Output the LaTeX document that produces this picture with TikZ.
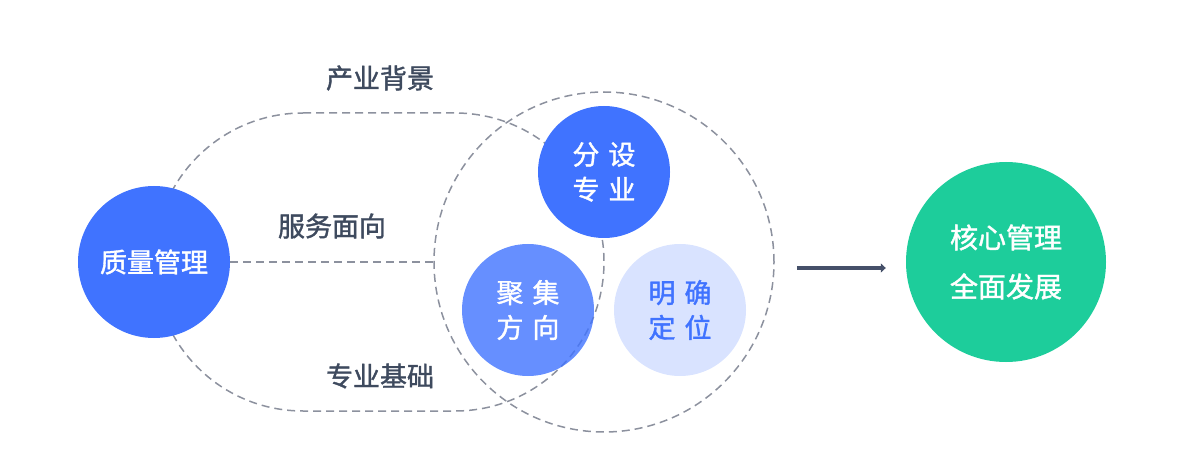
\documentclass[tikz,border=0pt]{standalone}
\usepackage{fontspec}
\setmainfont{Noto Sans CJK SC}[FakeBold=1.4]
\usepackage{tikz}
\usetikzlibrary{arrows.meta,positioning}
\definecolor{qmblue}{HTML}{4073FF}
\definecolor{qmpale}{HTML}{D9E3FF}
\definecolor{qmgreen}{HTML}{1DCD9B}
\definecolor{qmtext}{HTML}{3E4A5E}
\definecolor{qmdash}{HTML}{8C919E}
\definecolor{qmarrow}{HTML}{455069}

\begin{document}
\begin{tikzpicture}[x=1pt,y=1pt,
    dashline/.style={draw=qmdash,line width=1.5pt,dash pattern=on 8pt off 5pt},
    ball/.style={circle,inner sep=0pt,text=white,align=center,font=\fontsize{27}{35}\selectfont},
    label/.style={text=qmtext,font=\fontsize{27}{32}\selectfont}]
      \useasboundingbox (0,0) rectangle (1184,472);
      \draw[dashline] (303,359) -- (455,359) arc[start angle=90,end angle=-90,radius=149]
        -- (303,61) arc[start angle=270,end angle=90,radius=149] -- cycle;
      \node[circle,dashline,minimum size=340pt,inner sep=0pt] (ring) at (604,210) {};
      \node[ball,fill=qmblue,minimum size=152pt] (quality) at (154,210) {质量管理};
      \draw[dashline] (quality.east) -- (ring.west);
      \node[ball,fill=qmblue,minimum size=132pt] (major) at (604,300) {分\hspace{9pt}设\\专\hspace{9pt}业};
      \node[ball,fill=qmblue,fill opacity=0.8,text opacity=1,minimum size=132pt] (focus) at (528,162) {聚\hspace{9pt}集\\方\hspace{9pt}向};
      \node[ball,fill=qmpale,text=qmblue,minimum size=132pt] (locate) at (680,162) {明\hspace{9pt}确\\定\hspace{9pt}位};
      \node[label] (industry) at (380,394) {产业背景};
      \node[label] (service) at (332,246) {服务面向};
      \node[label] (basis) at (380,96) {专业基础};
      \node[ball,fill=qmgreen,minimum size=200pt,font=\fontsize{28}{49}\selectfont] (goal) at (1006,210) {核心管理\\全面发展};
      \draw[qmarrow,line width=3.5pt,-{Triangle[length=5pt,width=9pt]},shorten <=22pt,shorten >=20pt]
        ([yshift=-6pt]ring.east |- goal.west) -- ([yshift=-6pt]goal.west);
    \end{tikzpicture}
\end{document}
